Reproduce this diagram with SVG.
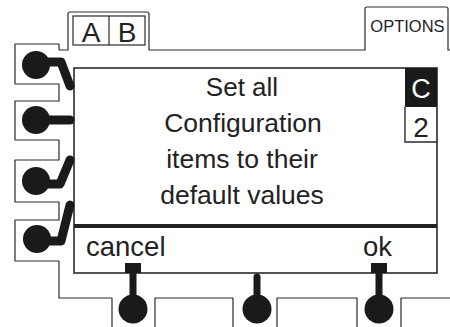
<svg xmlns="http://www.w3.org/2000/svg" width="450" height="327" viewBox="0 0 450 327">
<style>
.frame{fill:none;stroke:#2a2a2a;stroke-width:1.2;stroke-linejoin:round}
.screen{fill:#fff;stroke:#2a2a2a;stroke-width:1.6}
.lever{fill:none;stroke:#1a1a1a;stroke-width:9;stroke-linecap:round;stroke-linejoin:round}
.stem{fill:none;stroke:#1a1a1a;stroke-width:7;stroke-linecap:round}
.knob{fill:#1a1a1a}
.t{font-family:"Liberation Sans",Arial,sans-serif;fill:#222}
</style>
<rect width="450" height="327" fill="#fff"/>
<g id="connectors">
<path class="frame" d="M59,50 L59,44 L15,44 L15,84 L59,84 L59,101 L15,101 L15,140 L59,140 L59,160 L15,160 L15,202 L59,202 L59,220 L15,220 L15,261 L59,261 L59,298 L112,298 L112,327"/>
<path class="frame" d="M155,327 L155,298 L233,298 L233,327"/>
<path class="frame" d="M277,327 L277,298 L357,298 L357,327"/>
<path class="frame" d="M401,327 L401,298 L450,298"/>
<path class="frame" d="M59,50 L68,50 L68,14 Q68,12 70,12 L147,12 Q149,12 149,14 L149,50 L365,50 L365,9 Q365,7 367,7 L446,7 Q448,7 448,9 L448,50 L450,50"/>
</g>
<g id="tabAB">
<rect x="73" y="16" width="72" height="29" fill="none" stroke="#2a2a2a" stroke-width="1.2"/>
<line x1="109" y1="16" x2="109" y2="45" stroke="#2a2a2a" stroke-width="1.2"/>
<text class="t" x="91" y="41.5" font-size="28" text-anchor="middle">A</text>
<text class="t" x="127" y="41.5" font-size="28" text-anchor="middle">B</text>
</g>
<g id="options">
<text class="t" x="407.5" y="32" font-size="16.5" text-anchor="middle">OPTIONS</text>
</g>
<g id="screen">
<rect class="screen" x="74" y="68" width="363" height="205"/>
<line x1="74" y1="226" x2="437" y2="226" stroke="#222" stroke-width="4"/>
<text class="t" x="242" y="96" font-size="26" text-anchor="middle">Set all</text>
<text class="t" x="243" y="132" font-size="26.5" text-anchor="middle">Configuration</text>
<text class="t" x="242" y="168" font-size="26.5" text-anchor="middle">items to their</text>
<text class="t" x="242" y="204" font-size="26.5" text-anchor="middle">default values</text>
<text class="t" x="86" y="256" font-size="27.5">cancel</text>
<text class="t" x="363" y="256" font-size="27.5">ok</text>
</g>
<g id="indicator">
<rect x="405" y="68" width="32" height="39" fill="#1a1a1a"/>
<text x="421" y="98" font-size="27" text-anchor="middle" fill="#fff" font-family="Liberation Sans,Arial,sans-serif">C</text>
<path d="M405,107 L405,142 L437,142" fill="none" stroke="#2a2a2a" stroke-width="1.4"/>
<text class="t" x="421" y="137" font-size="28" text-anchor="middle">2</text>
</g>
<g id="btnL1">
<circle class="knob" cx="36" cy="65" r="14"/>
<path class="lever" d="M40,62 L61,62 L70,86"/>
</g>
<g id="btnL2">
<circle class="knob" cx="36" cy="120" r="14"/>
<path class="lever" d="M40,120 L70,120"/>
</g>
<g id="btnL3">
<circle class="knob" cx="36" cy="181" r="14"/>
<path class="lever" d="M40,184 L60,184 L70,160"/>
</g>
<g id="btnL4">
<circle class="knob" cx="37" cy="239" r="14"/>
<path class="lever" d="M40,241 L61,241 L70,205"/>
</g>
<g id="btnB1">
<rect class="knob" x="125" y="263" width="16" height="10"/>
<path class="stem" d="M133,274 L133,305"/>
<circle class="knob" cx="133" cy="309" r="14.5"/>
</g>
<g id="btnB2">
<path class="stem" d="M257,277 L257,305"/>
<circle class="knob" cx="257" cy="309" r="14.5"/>
</g>
<g id="btnB3">
<rect class="knob" x="371" y="263" width="16" height="10"/>
<path class="stem" d="M379,274 L379,305"/>
<circle class="knob" cx="379" cy="309" r="14.5"/>
</g>
</svg>
